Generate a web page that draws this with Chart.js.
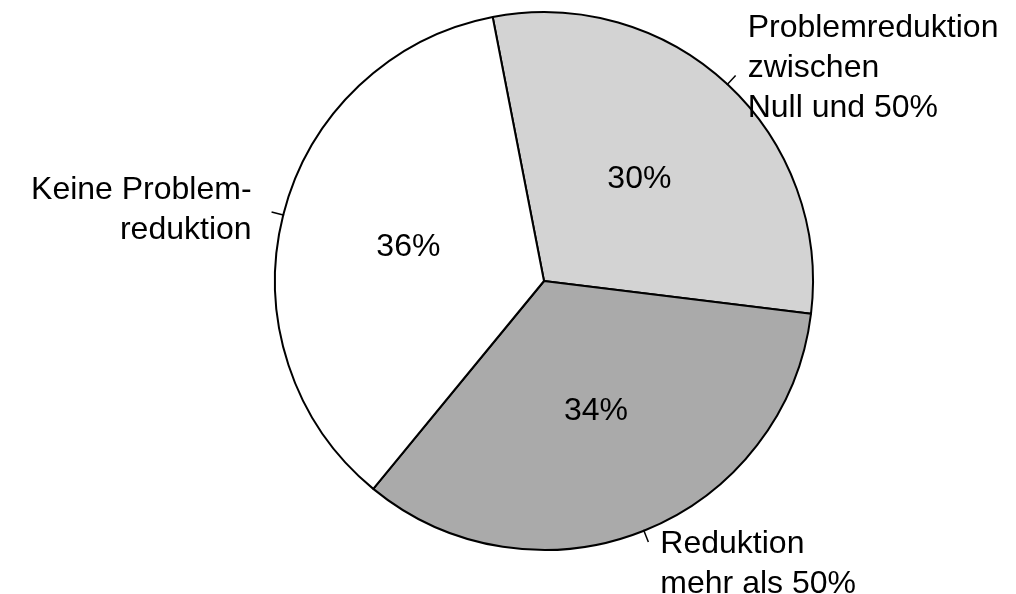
<!DOCTYPE html>
<html>
<head>
<meta charset="utf-8">
<script src="https://cdn.jsdelivr.net/npm/chart.js@4/dist/chart.umd.min.js"></script>
<style>
  html, body { margin: 0; padding: 0; background: #fff; }
  #wrap { width: 1016px; height: 594px; }
</style>
</head>
<body>
<div id="wrap"><canvas id="pieChart" width="1016" height="594"></canvas></div>
<script>
// slice data, clockwise from the top
const categories = [
    ['Problemreduktion', 'zwischen', 'Null und 50%'],
    ['Reduktion', 'mehr als 50%'],
    ['Keine Problem-', 'reduktion']
];
const shares = [30, 34, 36];
const sliceColors = ['#d3d3d3', '#aaaaaa', '#ffffff'];

const FONT = '32px "Liberation Sans", Arial, sans-serif';

// draws the percentages inside and the outer labels with their small ticks
const pieLabels = {
    id: 'pieLabels',
    afterDatasetsDraw(chart) {
        const ctx = chart.ctx;
        const arcs = chart.getDatasetMeta(0).data;
        const total = shares.reduce((a, b) => a + b, 0);
        ctx.save();
        ctx.font = FONT;
        ctx.fillStyle = '#000';
        ctx.strokeStyle = '#000';
        ctx.lineWidth = 1.5;

        arcs.forEach((arc, i) => {
            const mid = (arc.startAngle + arc.endAngle) / 2;
            const cx = arc.x, cy = arc.y, r = arc.outerRadius;
            const cos = Math.cos(mid), sin = Math.sin(mid);

            // percentage inside the slice
            ctx.textAlign = 'center';
            ctx.textBaseline = 'middle';
            ctx.fillText(Math.round(shares[i] / total * 100) + '%',
                cx + cos * r * 0.52, cy + sin * r * 0.52);

            // short leader tick
            const ex = cx + cos * (r + 12), ey = cy + sin * (r + 12);
            ctx.beginPath();
            ctx.moveTo(cx + cos * (r - 1), cy + sin * (r - 1));
            ctx.lineTo(ex, ey);
            ctx.stroke();

            // outer label block, pushed away from the pie vertically
            const lines = categories[i];
            const lh = 40;
            const blockH = lines.length * lh;
            const centerY = ey + sin * blockH * (sin > 0 ? 0.3 : 0.08);
            const top = centerY - blockH / 2;
            if (cos >= 0 || sin > 0.5) {
                ctx.textAlign = 'left';
                lines.forEach((t, k) => ctx.fillText(t, ex + 12, top + lh * (k + 0.5)));
            } else {
                ctx.textAlign = 'right';
                lines.forEach((t, k) => ctx.fillText(t, ex - 20, top + lh * (k + 0.5)));
            }
        });
        ctx.restore();
    }
};

new Chart(document.getElementById('pieChart').getContext('2d'), {
    type: 'pie',
    data: {
        labels: categories.map(l => l.join(' ')),
        datasets: [{
            data: shares,
            backgroundColor: sliceColors,
            borderColor: '#000',
            borderWidth: 2
        }]
    },
    options: {
        responsive: false,
        animation: false,
        rotation: -11,
        layout: { padding: { left: 72, right: 0, top: 11, bottom: 43 } },
        plugins: {
            legend: { display: false },
            tooltip: { enabled: false }
        }
    },
    plugins: [pieLabels]
});
</script>
</body>
</html>
